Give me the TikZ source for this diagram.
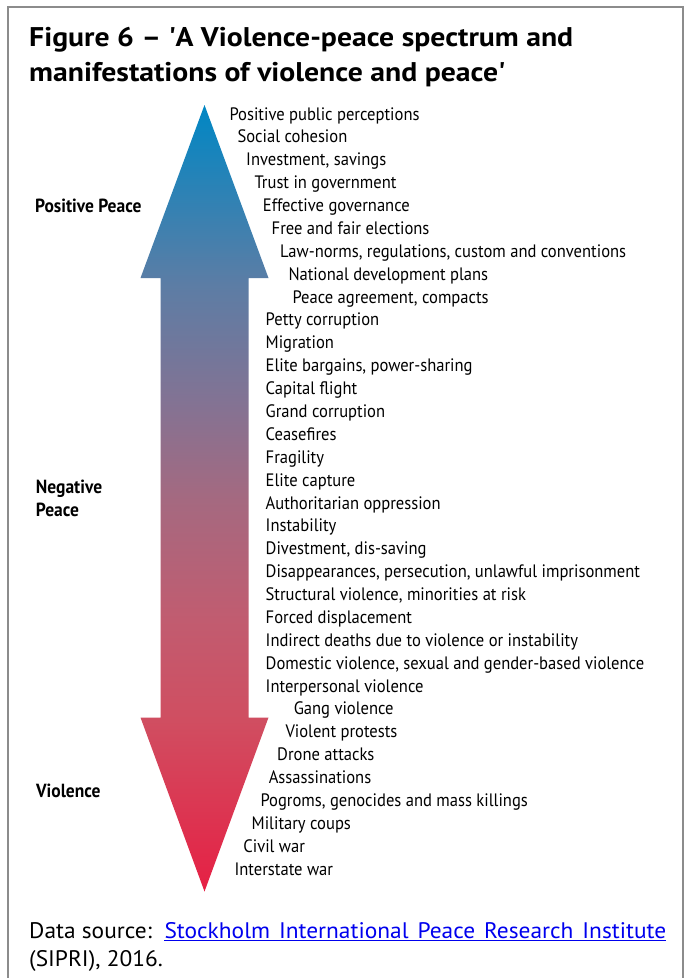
\documentclass[tikz,border=0pt]{standalone}
\usepackage{fontspec}
\setmainfont{PT Sans}
\newfontfamily\condfont[FakeStretch=0.92]{PT Sans}
\newfontfamily\headfont[FakeStretch=1.1]{PT Sans}
\newfontfamily\srcfont[FakeStretch=1.04]{PT Sans}
\usepackage{tikz}

\definecolor{framegray}{RGB}{140,140,140}
\definecolor{linkblue}{RGB}{0,0,238}

% blue (peace) at the top, red (violence) at the bottom
\pgfdeclareverticalshading{spectrum}{100bp}{%
  rgb(0bp)=(0.902,0.125,0.267);
  rgb(25bp)=(0.902,0.125,0.267);
  rgb(35.9bp)=(0.816,0.306,0.380);
  rgb(42.3bp)=(0.757,0.361,0.439);
  rgb(49.9bp)=(0.647,0.412,0.502);
  rgb(56.3bp)=(0.510,0.451,0.580);
  rgb(63.6bp)=(0.361,0.490,0.647);
  rgb(75bp)=(0,0.529,0.769);
  rgb(100bp)=(0,0.529,0.769)}

\begin{document}
\begin{tikzpicture}[x=1pt,y=-1pt,
	item/.style={anchor=base west,inner sep=0pt,font=\condfont\fontsize{18}{20}\selectfont},
	side/.style={anchor=base west,inner sep=0pt,font=\condfont\bfseries\fontsize{19}{22}\selectfont},
	heading/.style={anchor=base west,inner sep=0pt,font=\headfont\bfseries\fontsize{27}{32}\selectfont},
	source/.style={anchor=base west,inner sep=0pt,font=\srcfont\fontsize{22.5}{28}\selectfont}]
	
	\useasboundingbox (0,0) rectangle (687,978);
	\fill[white] (0,0) rectangle (687,978);
	\draw[framegray,line width=1.5pt] (8,978) -- (8,7) -- (683,7) -- (683,978);
	
	\node[heading] (title1) at (29,46.7) {Figure 6 \textendash\ \textquotesingle A Violence-peace spectrum and};
	\node[heading] (title2) at (29,81.7) {manifestations of violence and peace\textquotesingle};
	
	\shade[shading=spectrum] (204.5,105) -- (268.5,278) -- (248.5,278) -- (248.5,717.5)
		-- (268.5,717.5) -- (204.5,891.5) -- (140.5,717.5) -- (160.5,717.5)
		-- (160.5,278) -- (140.5,278) -- cycle;
	
	\node[side] (pospeace) at (35,212.3)   {Positive Peace};
	\node[side] (negpeace) at (35.7,493.3) {Negative};
	\node[side] (negpeace2) at (35.7,516)  {Peace};
	\node[side] (violence) at (36,797.3)   {Violence};
	
	\node[item] (perceptions)    at (229.3,120.0) {Positive public perceptions};
	\node[item] (cohesion)       at (237.3,142.9) {Social cohesion};
	\node[item] (investment)     at (246.0,165.8) {Investment, savings};
	\node[item] (trust)          at (254.3,188.6) {Trust in government};
	\node[item] (governance)     at (262.7,211.5) {Effective governance};
	\node[item] (elections)      at (271.5,234.4) {Free and fair elections};
	\node[item] (norms)          at (280.0,257.3) {Law-norms, regulations, custom and conventions};
	\node[item] (plans)          at (288.3,280.2) {National development plans};
	\node[item] (agreement)      at (292.3,303.0) {Peace agreement, compacts};
	\node[item] (petty)          at (265.5,325.9) {Petty corruption};
	\node[item] (migration)      at (265.5,348.8) {Migration};
	\node[item] (bargains)       at (265.5,371.7) {Elite bargains, power-sharing};
	\node[item] (flight)         at (265.5,394.6) {Capital flight};
	\node[item] (grand)          at (265.5,417.4) {Grand corruption};
	\node[item] (ceasefires)     at (265.5,440.3) {Ceasefires};
	\node[item] (fragility)      at (265.5,463.2) {Fragility};
	\node[item] (capture)        at (265.5,486.1) {Elite capture};
	\node[item] (oppression)     at (265.5,509.0) {Authoritarian oppression};
	\node[item] (instability)    at (265.5,531.8) {Instability};
	\node[item] (divestment)     at (265.5,554.7) {Divestment, dis-saving};
	\node[item] (disappear)      at (265.5,577.6) {Disappearances, persecution, unlawful imprisonment};
	\node[item] (structural)     at (265.5,600.5) {Structural violence, minorities at risk};
	\node[item] (displacement)   at (265.5,623.4) {Forced displacement};
	\node[item] (indirect)       at (265.5,646.2) {Indirect deaths due to violence or instability};
	\node[item] (domestic)       at (265.5,669.1) {Domestic violence, sexual and gender-based violence};
	\node[item] (interpersonal)  at (265.5,692.0) {Interpersonal violence};
	\node[item] (gang)           at (293.6,714.9) {Gang violence};
	\node[item] (protests)       at (285.3,737.8) {Violent protests};
	\node[item] (drone)          at (277.0,760.6) {Drone attacks};
	\node[item] (assassinations) at (268.6,783.5) {Assassinations};
	\node[item] (pogroms)        at (260.3,806.4) {Pogroms, genocides and mass killings};
	\node[item] (coups)          at (251.5,829.3) {Military coups};
	\node[item] (civil)          at (243.2,852.2) {Civil war};
	\node[item] (interstate)     at (234.4,875.0) {Interstate war};
	
	\node[source] (datasource) at (29,938.3) {Data source:};
	\node[source,text=linkblue] (sipri) at (164.3,938.3) {\makebox[501.7pt][s]{Stockholm International Peace Research Institute}};
	\draw[linkblue,line width=1pt] ([yshift=-2pt]sipri.base west) -- ([yshift=-2pt]sipri.base east);
	\node[source] (year) at (29,966.7) {(SIPRI), 2016.};
	
\end{tikzpicture}
\end{document}
